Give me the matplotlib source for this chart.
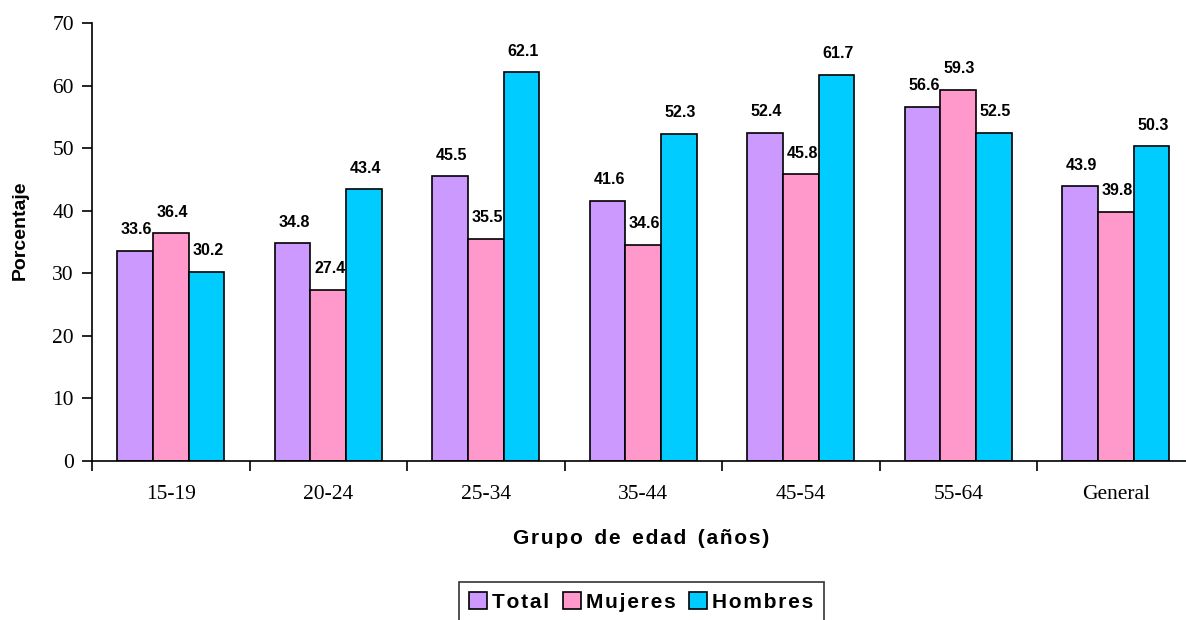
import matplotlib
matplotlib.use("Agg")
import matplotlib.pyplot as plt
import numpy as np

# Age groups and participation percentages
grupos = ["15-19", "20-24", "25-34", "35-44", "45-54", "55-64", "General"]
total = [33.6, 34.8, 45.5, 41.6, 52.4, 56.6, 43.9]
mujeres = [36.4, 27.4, 35.5, 34.6, 45.8, 59.3, 39.8]
hombres = [30.2, 43.4, 62.1, 52.3, 61.7, 52.5, 50.3]

series = [("Total", total, "#CC99FF"),
          ("Mujeres", mujeres, "#FF99CC"),
          ("Hombres", hombres, "#00CCFF")]

SANS = ["Liberation Sans", "DejaVu Sans"]
SERIF = "Liberation Serif"


def spaced(s):
    # widen the tracking of bold captions with hair spaces inside words
    out = []
    for i, ch in enumerate(s):
        out.append(ch)
        if i + 1 < len(s) and ch != " " and s[i + 1] != " ":
            out.append("\u200a")
    return "".join(out)


W, H = 1186, 620
fig = plt.figure(figsize=(W / 100, H / 100), dpi=100)
left, right_px = 92, 1194.5
top, bottom = 23, 461
ax = fig.add_axes([left / W, 1 - bottom / H, (right_px - left) / W, (bottom - top) / H])

x = np.arange(len(grupos)) + 0.5
bw = 0.226
for i, (name, vals, col) in enumerate(series):
    pos = x + (i - 1) * bw
    ax.bar(pos, vals, width=bw, color=col, edgecolor="black", linewidth=1.2,
           label=spaced(name), zorder=2)
    for px, v in zip(pos, vals):
        ax.annotate(f"{v:.1f}", (px, v), xytext=(1, 12), textcoords="offset points",
                    ha="center", va="baseline", fontsize=11.5, fontweight="bold",
                    family=SANS, zorder=5)

ax.set_xlim(0, len(grupos))
ax.set_ylim(0, 70)
ax.set_yticks(np.arange(0, 71, 10))
ax.set_xticks(x)
ax.set_xticklabels(grupos, family=SERIF, fontsize=15.5)
ax.set_xticks(np.arange(0, len(grupos) + 1), minor=True)
ax.tick_params(axis="x", which="major", length=0, pad=17)
ax.tick_params(axis="x", which="minor", length=7, width=1.2, direction="out")
ax.tick_params(axis="y", length=7, width=1.2, direction="out", pad=6)
for lbl in ax.get_yticklabels():
    lbl.set_family(SERIF)
    lbl.set_fontsize(15.5)

for s in ["top", "right"]:
    ax.spines[s].set_visible(False)
for s in ["left", "bottom"]:
    ax.spines[s].set_linewidth(1.2)

fig.text(641 / W, 1 - 539 / H, spaced("Grupo  de  edad  (años)"), ha="center", va="center",
         fontsize=15, fontweight="bold", family=SANS)
fig.text(20 / W, 1 - 230 / H, "Porcentaje", ha="center", va="center", rotation=90,
         fontsize=14, fontweight="bold", family=SANS)

leg = fig.legend(loc="upper left", bbox_to_anchor=(459 / W, 1 - 582 / H), ncol=3,
                 frameon=True, fancybox=False, edgecolor="black",
                 prop={"family": SANS, "weight": "bold", "size": 15},
                 handlelength=0.85, handleheight=0.85, handletextpad=0.25,
                 columnspacing=0.65, borderpad=0.5, borderaxespad=0)
leg.get_frame().set_linewidth(1.2)

fig.savefig("out.png", dpi=100)
